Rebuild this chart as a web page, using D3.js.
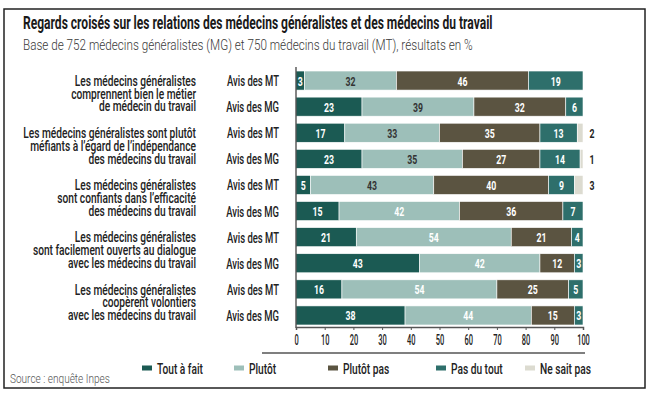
<!DOCTYPE html>
<html><head><meta charset="utf-8">
<script src="https://cdn.jsdelivr.net/npm/d3@7"></script>
<style>
body{margin:0;background:#fff;}
text{font-family:Roboto,'Liberation Sans',sans-serif;}
</style></head>
<body><svg id="c" width="652" height="394"></svg>
<script>
const title = "Regards croisés sur les relations des médecins généralistes et des médecins du travail";
const subtitle = "Base de 752 médecins généralistes (MG) et 750 médecins du travail (MT), résultats en %";
const source = "Source : enquête Inpes";
const series = ["Tout à fait", "Plutôt", "Plutôt pas", "Pas du tout", "Ne sait pas"];
const questions = [
  ["Les médecins généralistes", "comprennent bien le métier", "de médecin du travail"],
  ["Les médecins généralistes sont plutôt", "méfiants à l’égard de l’indépendance", "des médecins du travail"],
  ["Les médecins généralistes", "sont confiants dans l’efficacité", "des médecins du travail"],
  ["Les médecins généralistes", "sont facilement ouverts au dialogue", "avec les médecins du travail"],
  ["Les médecins généralistes", "coopèrent volontiers", "avec les médecins du travail"]
];
const groups = ["Avis des MT", "Avis des MG"];
// values per row: [Tout à fait, Plutôt, Plutôt pas, Pas du tout, Ne sait pas]
const toutAFait = [3, 23, 17, 23, 5, 15, 21, 43, 16, 38];
const plutot    = [32, 39, 33, 35, 43, 42, 54, 42, 54, 44];
const plutotPas = [46, 32, 35, 27, 40, 36, 21, 12, 25, 15];
const pasDuTout = [19, 6, 13, 14, 9, 7, 4, 3, 5, 3];
const neSaitPas = [0, 0, 2, 1, 3, 0, 0, 0, 0, 0];
const xTicks = [0, 10, 20, 30, 40, 50, 60, 70, 80, 90, 100];

const colors = ["#1b5a53", "#9dbfb9", "#5b5441", "#2e6f6b", "#dcdbd0"];
const svg = d3.select("#c");

// measure helper to emulate a condensed typeface
function scaleFor(str, size, weight, target) {
  const t = svg.append("text").attr("font-size", size).attr("font-weight", weight).text(str);
  const w = t.node().getComputedTextLength();
  t.remove();
  return target / w;
}
function squeeze(sel, s) {
  sel.each(function() {
    const el = d3.select(this);
    const x = +el.attr("x"), y = +el.attr("y");
    el.attr("transform", `translate(${x},${y}) scale(${s},1) translate(${-x},${-y})`);
  });
}

const fQ = 14.5, fNum = 13.5;
const sTitle = scaleFor(title, 17.5, "bold", 470);
const sSub = scaleFor(subtitle, 15, "300", 450);
const sQ = scaleFor("Les médecins généralistes sont plutôt", fQ, "500", 173);
const sAvis = scaleFor("Avis des MT", fQ, "500", 52);
const sLeg = scaleFor("Tout à fait", fQ, "500", 46);
const sNum = scaleFor("46", fNum, "bold", 10);
const sTick = scaleFor("10", 15, "500", 8.5);
const sSrc = scaleFor(source, 13, "300", 100);

svg.append("rect").attr("x", 4).attr("y", 9).attr("width", 641).attr("height", 379)
  .attr("fill", "none").attr("stroke", "#222").attr("stroke-width", 1.5);

svg.append("text").attr("x", 23).attr("y", 29).text(title)
  .attr("font-size", 17.5).attr("font-weight", "bold").attr("fill", "#1a1a1a").call(squeeze, sTitle);
svg.append("text").attr("x", 23).attr("y", 50).text(subtitle)
  .attr("font-size", 15).attr("font-weight", "300").attr("fill", "#3a3a3a").call(squeeze, sSub);

const rows = d3.range(10);
const data = rows.map(i => ({i, vals: [toutAFait[i], plutot[i], plutotPas[i], pasDuTout[i], neSaitPas[i]]}));

const x = d3.scaleLinear().domain([0, 100]).range([296, 583]);
const y = d3.scaleBand().domain(rows).range([67.5, 328.5]).paddingInner(0.27).paddingOuter(0.135);

const stack = d3.stack().keys([0,1,2,3,4]).value((d, k) => d.vals[k])(data);

stack.forEach((layer, k) => {
  svg.append("g").selectAll("rect").data(layer).join("rect")
    .attr("x", d => x(d[0])).attr("width", d => x(d[1]) - x(d[0]))
    .attr("y", d => y(d.data.i)).attr("height", y.bandwidth())
    .attr("fill", colors[k]).attr("stroke", "#fff").attr("stroke-width", 0.6);
});

// segment labels
stack.forEach((layer, k) => {
  if (k === 4) {
    svg.append("g").selectAll("text").data(layer.filter(d => d.data.vals[4] > 0)).join("text")
      .attr("x", x(100) + 9).attr("y", d => y(d.data.i) + y.bandwidth()/2 + 5)
      .attr("text-anchor", "middle").attr("font-size", fNum).attr("font-weight", "bold")
      .attr("fill", "#222").text(d => d.data.vals[4]).call(squeeze, sNum);
    return;
  }
  svg.append("g").selectAll("text").data(layer.filter(d => d.data.vals[k] > 0)).join("text")
    .attr("x", d => (x(d[0]) + x(d[1])) / 2).attr("y", d => y(d.data.i) + y.bandwidth()/2 + 5)
    .attr("text-anchor", "middle").attr("font-size", fNum).attr("font-weight", "bold")
    .attr("fill", d => (k === 1 && d.data.i < 5) ? "#333" : "#fff")
    .text(d => d.data.vals[k]).call(squeeze, sNum);
});

// group labels
svg.append("g").selectAll("text").data(rows).join("text")
  .attr("x", 279).attr("y", i => y(i) + y.bandwidth()/2 + 5.5)
  .attr("text-anchor", "end").attr("font-size", fQ).attr("font-weight", "500").attr("fill", "#222")
  .text(i => groups[i % 2]).call(squeeze, sAvis);

// question labels
questions.forEach((lines, q) => {
  const cy = (y(q*2) + y(q*2+1) + y.bandwidth()) / 2;
  const g = svg.append("g");
  lines.forEach((l, j) => {
    g.append("text").attr("x", 196).attr("y", cy + (j - 1) * 12.8 + 5)
      .attr("text-anchor", "end").attr("font-size", fQ).attr("font-weight", "500")
      .attr("fill", "#222").text(l);
  });
  g.selectAll("text").call(squeeze, sQ);
});

// vertical axis line
svg.append("line").attr("x1", x(0)).attr("x2", x(0)).attr("y1", 67).attr("y2", 328)
  .attr("stroke", "#333").attr("stroke-width", 1.2);

// x axis
const ax = svg.append("g").attr("transform", "translate(0,327)")
  .call(d3.axisBottom(x).tickValues(xTicks).tickSize(3).tickPadding(4));
ax.select(".domain").attr("stroke", "#555").attr("stroke-width", 1.5);
ax.selectAll(".tick line").attr("stroke", "#555");
ax.selectAll(".tick text").attr("font-size", 15).attr("font-weight", "500").attr("fill", "#222")
  .style("font-family", "Roboto,'Liberation Sans',sans-serif")
  .attr("transform", `scale(${sTick},1)`);

// separator line
svg.append("line").attr("x1", 262).attr("x2", 585).attr("y1", 353).attr("y2", 353)
  .attr("stroke", "#555").attr("stroke-width", 1.5);

// legend
const legendX = [142, 234, 328, 436, 525];
const lg = svg.append("g").selectAll("g").data(series).join("g")
  .attr("transform", (d, i) => `translate(${legendX[i]},368)`);
lg.append("rect").attr("x", 0).attr("y", -2.5).attr("width", 10).attr("height", 5)
  .attr("fill", (d, i) => colors[i]);
lg.append("text").attr("x", 15).attr("y", 5.5).attr("font-size", fQ).attr("font-weight", "500")
  .attr("fill", "#222").text(d => d).call(squeeze, sLeg);

svg.append("text").attr("x", 10).attr("y", 383).text(source)
  .attr("font-size", 13).attr("font-weight", "300").attr("fill", "#555").call(squeeze, sSrc);
</script></body></html>
